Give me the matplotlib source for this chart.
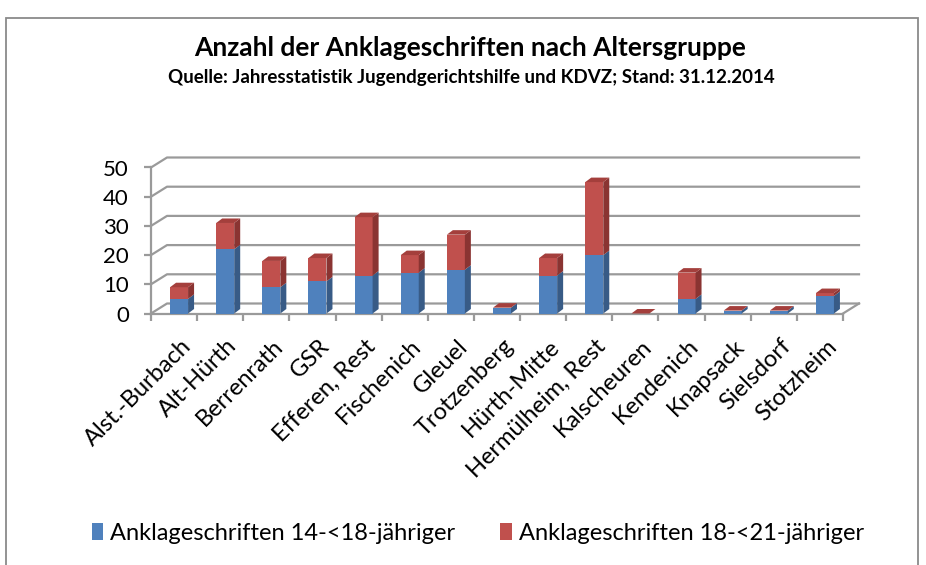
import matplotlib
matplotlib.use('Agg')
import matplotlib.pyplot as plt
import matplotlib.transforms as mtransforms
from matplotlib.patches import Polygon, Rectangle, Patch
import numpy as np

# Werte
orte = ['Alst.-Burbach', 'Alt-Hürth', 'Berrenrath', 'GSR', 'Efferen, Rest',
        'Fischenich', 'Gleuel', 'Trotzenberg', 'Hürth-Mitte', 'Hermülheim, Rest',
        'Kalscheuren', 'Kendenich', 'Knapsack', 'Sielsdorf', 'Stotzheim']
jung = [5, 22, 9, 11, 13, 14, 15, 2, 13, 20, 0, 5, 1, 1, 6]      # 14-<18
heranw = [4, 9, 9, 8, 20, 6, 12, 0, 6, 25, 0, 9, 0, 0, 1]        # 18-<21
yticks = [0, 10, 20, 30, 40, 50]
serien = ['Anklageschriften 14-<18-jähriger', 'Anklageschriften 18-<21-jähriger']

plt.rcParams['font.family'] = ['Lato', 'DejaVu Sans']

blau, blau_s = '#4f81bd', '#385b86'
rot, rot_s, rot_t = '#c0504d', '#8a3432', '#a43f3c'
grau = '#9a9a9a'

W, H = 926, 565
fig = plt.figure(figsize=(W / 100, H / 100), dpi=100)

# Rahmen
fig.add_artist(Rectangle((6 / W, -0.05), 912 / W, 1.05 - 18 / H, transform=fig.transFigure,
                         fill=False, edgecolor='#8a8a8a', lw=1.3))

x0, x1 = 151, 843
y0, y50 = 313.5, 167.5
ax = fig.add_axes([x0 / W, 1 - y0 / H, (x1 - x0) / W, (y0 - y50) / H])
n = len(orte)
ax.set_xlim(-0.5, n - 0.5)
ax.set_ylim(0, 50)

pxx = (x1 - x0) / n          # Pixel je Kategorie
pxy = (y0 - y50) / 50        # Pixel je Einheit
wdx, wdy = 16 / pxx, 10 / pxy   # Tiefe der Rückwand
bdx, bdy = 6 / pxx, 4.5 / pxy   # Tiefe der Säulen
off = 5 / pxx
wb = 18 / pxx

# Gitterlinien (Seitenwand + Rückwand) und Boden
for v in yticks:
    ax.plot([-0.5, -0.5 + wdx, n - 0.5 + wdx], [v, v + wdy, v + wdy],
            color=grau, lw=1.6, clip_on=False, zorder=1)
ax.plot([n - 0.5, n - 0.5 + wdx], [0, wdy], color=grau, lw=1.6, clip_on=False, zorder=1)

for s in ['top', 'right']:
    ax.spines[s].set_visible(False)
for s in ['left', 'bottom']:
    ax.spines[s].set_color(grau)
    ax.spines[s].set_linewidth(1.6)

ax.set_yticks(yticks)
ax.set_yticklabels([str(v) for v in yticks], fontsize=16)
ax.tick_params(axis='y', direction='out', length=5, width=1.6, color=grau, pad=11)
ax.set_xticks(np.arange(n))
ax.set_xticklabels([])
ax.tick_params(axis='x', which='major', length=0)
ax.set_xticks(np.arange(-0.5, n), minor=True)
ax.tick_params(axis='x', which='minor', direction='out', length=5, width=1.6, color=grau)

xs = np.arange(n) + off
jung_a = np.array(jung, dtype=float)
gesamt = jung_a + np.array(heranw, dtype=float)

ax.bar(xs, jung, width=wb, color=blau, zorder=3, clip_on=False)
ax.bar(xs, heranw, width=wb, bottom=jung, color=rot, zorder=3, clip_on=False)

for x, b, t in zip(xs, jung_a, gesamt):
    xl, xr = x - wb / 2, x + wb / 2
    # Seitenflächen
    ax.add_patch(Polygon([(xr, 0), (xr + bdx, bdy), (xr + bdx, b + bdy), (xr, b)],
                         closed=True, color=blau_s, zorder=3, lw=0))
    if t > b:
        ax.add_patch(Polygon([(xr, b), (xr + bdx, b + bdy), (xr + bdx, t + bdy), (xr, t)],
                             closed=True, color=rot_s, zorder=3, lw=0))
    # Deckfläche
    ax.add_patch(Polygon([(xl, t), (xl + bdx, t + bdy), (xr + bdx, t + bdy), (xr, t)],
                         closed=True, color=rot_t, zorder=3, lw=0))

# Kategorienbeschriftung
tr = mtransforms.offset_copy(ax.get_xaxis_transform(), fig=fig, x=1, y=-22, units='dots')
for x, name in zip(xs, orte):
    ax.text(x, 0, name, transform=tr, rotation=45, ha='right', va='top',
            rotation_mode='anchor', fontsize=17, clip_on=False)

fig.text(470 / W, 1 - 48 / H, 'Anzahl der Anklageschriften nach Altersgruppe',
         ha='center', va='center', fontsize=19, fontweight='bold')
fig.text(471 / W, 1 - 77 / H,
         'Quelle: Jahresstatistik Jugendgerichtshilfe und KDVZ; Stand: 31.12.2014',
         ha='center', va='center', fontsize=13.5, fontweight='bold')

handles = [Patch(facecolor=blau, edgecolor='none'), Patch(facecolor=rot, edgecolor='none')]
fig.legend(handles, serien, loc='center', bbox_to_anchor=(478 / W, 1 - 533 / H),
           ncol=2, frameon=False, fontsize=17, handlelength=0.5, handleheight=0.7,
           handletextpad=0.3, columnspacing=1.9)

fig.savefig('out.png', dpi=100)
